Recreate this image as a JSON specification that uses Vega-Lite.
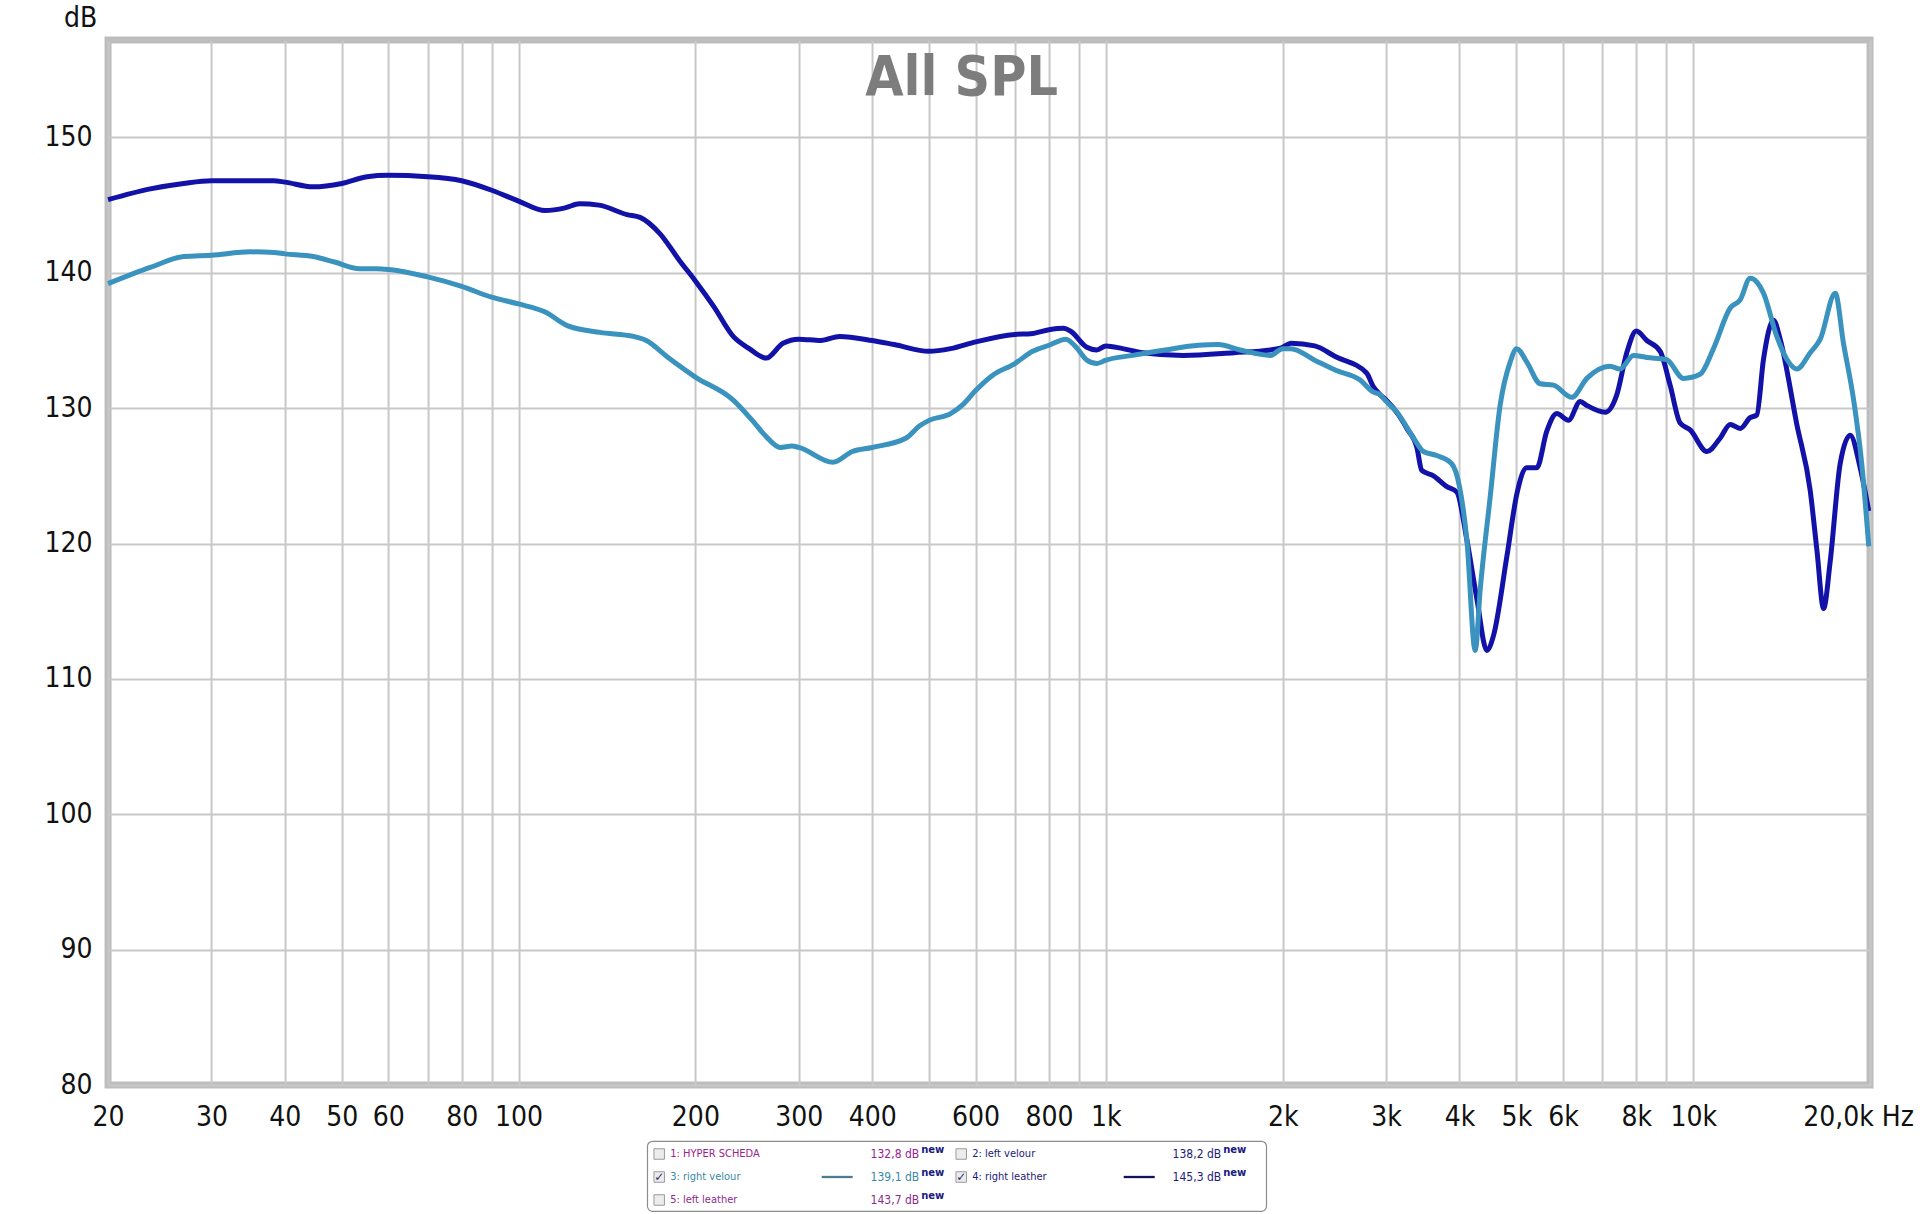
{
  "$schema": "https://vega.github.io/schema/vega-lite/v6.json",
  "background": "white",
  "padding": {"left": 40, "top": 0, "right": 0, "bottom": 0},
  "config": {
    "font": "DejaVu Sans Condensed"
  },
  "spacing": 5,
  "center": true,
  "vconcat": [
    {
      "width": 1762,
      "height": 1045,
      "view": {"stroke": "#bdbdbd", "strokeWidth": 7},
      "data": {
        "values": [
          {"series": "4: right leather", "freq": 20, "spl": 145.4},
          {"series": "4: right leather", "freq": 23.6, "spl": 146.2},
          {"series": "4: right leather", "freq": 26.9, "spl": 146.6},
          {"series": "4: right leather", "freq": 30, "spl": 146.8},
          {"series": "4: right leather", "freq": 34.9, "spl": 146.8},
          {"series": "4: right leather", "freq": 38.3, "spl": 146.8},
          {"series": "4: right leather", "freq": 40, "spl": 146.7},
          {"series": "4: right leather", "freq": 44.7, "spl": 146.35},
          {"series": "4: right leather", "freq": 50, "spl": 146.6},
          {"series": "4: right leather", "freq": 55.2, "spl": 147.1},
          {"series": "4: right leather", "freq": 60, "spl": 147.2},
          {"series": "4: right leather", "freq": 70, "spl": 147.1},
          {"series": "4: right leather", "freq": 80, "spl": 146.8},
          {"series": "4: right leather", "freq": 90, "spl": 146.1},
          {"series": "4: right leather", "freq": 100, "spl": 145.3},
          {"series": "4: right leather", "freq": 111, "spl": 144.6},
          {"series": "4: right leather", "freq": 120, "spl": 144.8},
          {"series": "4: right leather", "freq": 127, "spl": 145.1},
          {"series": "4: right leather", "freq": 137, "spl": 145.0},
          {"series": "4: right leather", "freq": 153, "spl": 144.3},
          {"series": "4: right leather", "freq": 161, "spl": 144.1},
          {"series": "4: right leather", "freq": 174, "spl": 142.9},
          {"series": "4: right leather", "freq": 188, "spl": 140.9},
          {"series": "4: right leather", "freq": 200, "spl": 139.4},
          {"series": "4: right leather", "freq": 215, "spl": 137.5},
          {"series": "4: right leather", "freq": 232, "spl": 135.3},
          {"series": "4: right leather", "freq": 247, "spl": 134.4},
          {"series": "4: right leather", "freq": 264, "spl": 133.7},
          {"series": "4: right leather", "freq": 282, "spl": 134.8},
          {"series": "4: right leather", "freq": 300, "spl": 135.1},
          {"series": "4: right leather", "freq": 327, "spl": 135.0},
          {"series": "4: right leather", "freq": 352, "spl": 135.3},
          {"series": "4: right leather", "freq": 400, "spl": 135.0},
          {"series": "4: right leather", "freq": 436, "spl": 134.7},
          {"series": "4: right leather", "freq": 500, "spl": 134.2},
          {"series": "4: right leather", "freq": 544, "spl": 134.4},
          {"series": "4: right leather", "freq": 600, "spl": 134.9},
          {"series": "4: right leather", "freq": 700, "spl": 135.45},
          {"series": "4: right leather", "freq": 745, "spl": 135.5},
          {"series": "4: right leather", "freq": 800, "spl": 135.8},
          {"series": "4: right leather", "freq": 848, "spl": 135.9},
          {"series": "4: right leather", "freq": 870, "spl": 135.7},
          {"series": "4: right leather", "freq": 928, "spl": 134.5},
          {"series": "4: right leather", "freq": 965, "spl": 134.3},
          {"series": "4: right leather", "freq": 1000, "spl": 134.6},
          {"series": "4: right leather", "freq": 1068, "spl": 134.4},
          {"series": "4: right leather", "freq": 1156, "spl": 134.1},
          {"series": "4: right leather", "freq": 1354, "spl": 133.9},
          {"series": "4: right leather", "freq": 1652, "spl": 134.1},
          {"series": "4: right leather", "freq": 1906, "spl": 134.3},
          {"series": "4: right leather", "freq": 2000, "spl": 134.5},
          {"series": "4: right leather", "freq": 2065, "spl": 134.8},
          {"series": "4: right leather", "freq": 2267, "spl": 134.6},
          {"series": "4: right leather", "freq": 2462, "spl": 133.8},
          {"series": "4: right leather", "freq": 2779, "spl": 132.6},
          {"series": "4: right leather", "freq": 2852, "spl": 131.6},
          {"series": "4: right leather", "freq": 2930, "spl": 131.0},
          {"series": "4: right leather", "freq": 3000, "spl": 130.6},
          {"series": "4: right leather", "freq": 3150, "spl": 129.5},
          {"series": "4: right leather", "freq": 3254, "spl": 128.5},
          {"series": "4: right leather", "freq": 3384, "spl": 127.1},
          {"series": "4: right leather", "freq": 3450, "spl": 125.4},
          {"series": "4: right leather", "freq": 3612, "spl": 125.0},
          {"series": "4: right leather", "freq": 3806, "spl": 124.2},
          {"series": "4: right leather", "freq": 3958, "spl": 123.8},
          {"series": "4: right leather", "freq": 4116, "spl": 120.3},
          {"series": "4: right leather", "freq": 4282, "spl": 115.9},
          {"series": "4: right leather", "freq": 4452, "spl": 112.1},
          {"series": "4: right leather", "freq": 4570, "spl": 113.2},
          {"series": "4: right leather", "freq": 4816, "spl": 119.05},
          {"series": "4: right leather", "freq": 5010, "spl": 123.7},
          {"series": "4: right leather", "freq": 5208, "spl": 125.6},
          {"series": "4: right leather", "freq": 5416, "spl": 125.6},
          {"series": "4: right leather", "freq": 5632, "spl": 128.3},
          {"series": "4: right leather", "freq": 5858, "spl": 129.6},
          {"series": "4: right leather", "freq": 6131, "spl": 129.1},
          {"series": "4: right leather", "freq": 6420, "spl": 130.5},
          {"series": "4: right leather", "freq": 6589, "spl": 130.2},
          {"series": "4: right leather", "freq": 7080, "spl": 129.7},
          {"series": "4: right leather", "freq": 7412, "spl": 131.0},
          {"series": "4: right leather", "freq": 7706, "spl": 134.1},
          {"series": "4: right leather", "freq": 8000, "spl": 135.7},
          {"series": "4: right leather", "freq": 8335, "spl": 135.0},
          {"series": "4: right leather", "freq": 8784, "spl": 134.2},
          {"series": "4: right leather", "freq": 9133, "spl": 131.7},
          {"series": "4: right leather", "freq": 9500, "spl": 128.9},
          {"series": "4: right leather", "freq": 9880, "spl": 128.4},
          {"series": "4: right leather", "freq": 10550, "spl": 126.8},
          {"series": "4: right leather", "freq": 11118, "spl": 127.8},
          {"series": "4: right leather", "freq": 11560, "spl": 128.8},
          {"series": "4: right leather", "freq": 12020, "spl": 128.5},
          {"series": "4: right leather", "freq": 12500, "spl": 129.3},
          {"series": "4: right leather", "freq": 12830, "spl": 129.5},
          {"series": "4: right leather", "freq": 13170, "spl": 133.6},
          {"series": "4: right leather", "freq": 13700, "spl": 136.5},
          {"series": "4: right leather", "freq": 14060, "spl": 135.1},
          {"series": "4: right leather", "freq": 15010, "spl": 128.8},
          {"series": "4: right leather", "freq": 15820, "spl": 123.9},
          {"series": "4: right leather", "freq": 16240, "spl": 119.5},
          {"series": "4: right leather", "freq": 16670, "spl": 115.2},
          {"series": "4: right leather", "freq": 17100, "spl": 118.6},
          {"series": "4: right leather", "freq": 17790, "spl": 125.9},
          {"series": "4: right leather", "freq": 18500, "spl": 128.0},
          {"series": "4: right leather", "freq": 19240, "spl": 125.6},
          {"series": "4: right leather", "freq": 19900, "spl": 122.4},
          {"series": "3: right velour", "freq": 20, "spl": 139.2},
          {"series": "3: right velour", "freq": 23.6, "spl": 140.4},
          {"series": "3: right velour", "freq": 26.9, "spl": 141.2},
          {"series": "3: right velour", "freq": 30, "spl": 141.3},
          {"series": "3: right velour", "freq": 34.9, "spl": 141.55},
          {"series": "3: right velour", "freq": 38.3, "spl": 141.5},
          {"series": "3: right velour", "freq": 40, "spl": 141.4},
          {"series": "3: right velour", "freq": 44.7, "spl": 141.2},
          {"series": "3: right velour", "freq": 48.6, "spl": 140.8},
          {"series": "3: right velour", "freq": 53.6, "spl": 140.3},
          {"series": "3: right velour", "freq": 57.3, "spl": 140.3},
          {"series": "3: right velour", "freq": 60, "spl": 140.25},
          {"series": "3: right velour", "freq": 70, "spl": 139.7},
          {"series": "3: right velour", "freq": 80, "spl": 139.0},
          {"series": "3: right velour", "freq": 90, "spl": 138.2},
          {"series": "3: right velour", "freq": 100, "spl": 137.7},
          {"series": "3: right velour", "freq": 111, "spl": 137.1},
          {"series": "3: right velour", "freq": 121, "spl": 136.1},
          {"series": "3: right velour", "freq": 137.6, "spl": 135.6},
          {"series": "3: right velour", "freq": 157, "spl": 135.3},
          {"series": "3: right velour", "freq": 165, "spl": 135.0},
          {"series": "3: right velour", "freq": 179, "spl": 133.8},
          {"series": "3: right velour", "freq": 200, "spl": 132.3},
          {"series": "3: right velour", "freq": 232, "spl": 130.6},
          {"series": "3: right velour", "freq": 250, "spl": 129.1},
          {"series": "3: right velour", "freq": 264, "spl": 127.9},
          {"series": "3: right velour", "freq": 279, "spl": 127.1},
          {"series": "3: right velour", "freq": 292, "spl": 127.2},
          {"series": "3: right velour", "freq": 300, "spl": 127.1},
          {"series": "3: right velour", "freq": 343, "spl": 126.0},
          {"series": "3: right velour", "freq": 370, "spl": 126.8},
          {"series": "3: right velour", "freq": 400, "spl": 127.1},
          {"series": "3: right velour", "freq": 457, "spl": 127.8},
          {"series": "3: right velour", "freq": 482, "spl": 128.7},
          {"series": "3: right velour", "freq": 500, "spl": 129.1},
          {"series": "3: right velour", "freq": 544, "spl": 129.6},
          {"series": "3: right velour", "freq": 572, "spl": 130.3},
          {"series": "3: right velour", "freq": 600, "spl": 131.3},
          {"series": "3: right velour", "freq": 640, "spl": 132.4},
          {"series": "3: right velour", "freq": 700, "spl": 133.3},
          {"series": "3: right velour", "freq": 750, "spl": 134.2},
          {"series": "3: right velour", "freq": 800, "spl": 134.65},
          {"series": "3: right velour", "freq": 855, "spl": 135.1},
          {"series": "3: right velour", "freq": 890, "spl": 134.5},
          {"series": "3: right velour", "freq": 928, "spl": 133.55},
          {"series": "3: right velour", "freq": 965, "spl": 133.3},
          {"series": "3: right velour", "freq": 1000, "spl": 133.55},
          {"series": "3: right velour", "freq": 1110, "spl": 133.9},
          {"series": "3: right velour", "freq": 1262, "spl": 134.3},
          {"series": "3: right velour", "freq": 1437, "spl": 134.65},
          {"series": "3: right velour", "freq": 1553, "spl": 134.7},
          {"series": "3: right velour", "freq": 1693, "spl": 134.3},
          {"series": "3: right velour", "freq": 1906, "spl": 133.9},
          {"series": "3: right velour", "freq": 2000, "spl": 134.4},
          {"series": "3: right velour", "freq": 2065, "spl": 134.4},
          {"series": "3: right velour", "freq": 2267, "spl": 133.55},
          {"series": "3: right velour", "freq": 2462, "spl": 132.8},
          {"series": "3: right velour", "freq": 2706, "spl": 132.1},
          {"series": "3: right velour", "freq": 2852, "spl": 131.2},
          {"series": "3: right velour", "freq": 2930, "spl": 131.0},
          {"series": "3: right velour", "freq": 3000, "spl": 130.5},
          {"series": "3: right velour", "freq": 3130, "spl": 129.7},
          {"series": "3: right velour", "freq": 3340, "spl": 127.8},
          {"series": "3: right velour", "freq": 3472, "spl": 126.8},
          {"series": "3: right velour", "freq": 3658, "spl": 126.5},
          {"series": "3: right velour", "freq": 3880, "spl": 125.9},
          {"series": "3: right velour", "freq": 4000, "spl": 124.2},
          {"series": "3: right velour", "freq": 4116, "spl": 120.3},
          {"series": "3: right velour", "freq": 4254, "spl": 112.1},
          {"series": "3: right velour", "freq": 4338, "spl": 116.6},
          {"series": "3: right velour", "freq": 4510, "spl": 123.4},
          {"series": "3: right velour", "freq": 4690, "spl": 130.2},
          {"series": "3: right velour", "freq": 4878, "spl": 133.4},
          {"series": "3: right velour", "freq": 5006, "spl": 134.4},
          {"series": "3: right velour", "freq": 5208, "spl": 133.4},
          {"series": "3: right velour", "freq": 5488, "spl": 131.8},
          {"series": "3: right velour", "freq": 5781, "spl": 131.7},
          {"series": "3: right velour", "freq": 6212, "spl": 130.8},
          {"series": "3: right velour", "freq": 6589, "spl": 132.2},
          {"series": "3: right velour", "freq": 7216, "spl": 133.1},
          {"series": "3: right velour", "freq": 7508, "spl": 132.9},
          {"series": "3: right velour", "freq": 7912, "spl": 133.9},
          {"series": "3: right velour", "freq": 8335, "spl": 133.75},
          {"series": "3: right velour", "freq": 9000, "spl": 133.6},
          {"series": "3: right velour", "freq": 9626, "spl": 132.2},
          {"series": "3: right velour", "freq": 10272, "spl": 132.5},
          {"series": "3: right velour", "freq": 10826, "spl": 134.4},
          {"series": "3: right velour", "freq": 11560, "spl": 137.4},
          {"series": "3: right velour", "freq": 12020, "spl": 138.0},
          {"series": "3: right velour", "freq": 12500, "spl": 139.6},
          {"series": "3: right velour", "freq": 13170, "spl": 138.5},
          {"series": "3: right velour", "freq": 13876, "spl": 135.3},
          {"series": "3: right velour", "freq": 14440, "spl": 133.6},
          {"series": "3: right velour", "freq": 15010, "spl": 132.9},
          {"series": "3: right velour", "freq": 15820, "spl": 134.1},
          {"series": "3: right velour", "freq": 16454, "spl": 135.1},
          {"series": "3: right velour", "freq": 17450, "spl": 138.5},
          {"series": "3: right velour", "freq": 18020, "spl": 134.8},
          {"series": "3: right velour", "freq": 18738, "spl": 130.7},
          {"series": "3: right velour", "freq": 19360, "spl": 125.9},
          {"series": "3: right velour", "freq": 19900, "spl": 119.8}
        ]
      },
      "mark": {"type": "line", "strokeWidth": 5, "interpolate": "monotone"},
      "encoding": {
        "x": {
          "field": "freq",
          "type": "quantitative",
          "scale": {"type": "log", "domain": [20, 20000], "nice": false},
          "axis": {
            "title": "All SPL",
            "titleFont": "DejaVu Sans Condensed",
            "titleFontSize": 55,
            "titleFontWeight": "bold",
            "titleColor": "#7d7d7d",
            "titleAlign": "center",
            "titleBaseline": "alphabetic",
            "titleX": 853,
            "titleY": -991,
            "values": [20, 30, 40, 50, 60, 70, 80, 90, 100, 200, 300, 400, 500, 600, 700, 800, 900, 1000, 2000, 3000, 4000, 5000, 6000, 7000, 8000, 9000, 10000, 20000],
            "labelExpr": "datum.value >= 20000 ? '20,0k Hz' : indexof([70, 90, 500, 700, 900, 7000, 9000], datum.value) >= 0 ? '' : datum.value >= 1000 ? (datum.value / 1000) + 'k' : datum.value + ''",
            "labelOverlap": false,
            "labelFlush": false,
            "labelFont": "DejaVu Sans Condensed",
            "labelFontSize": 28,
            "labelColor": "#111111",
            "labelPadding": 18,
            "labelOffset": {"condition": {"test": "datum.value >= 20000", "value": -12}, "value": 0},
            "grid": true,
            "gridColor": "#c8c8c8",
            "gridWidth": 2,
            "domain": false,
            "ticks": false
          }
        },
        "y": {
          "field": "spl",
          "type": "quantitative",
          "scale": {"domain": [80, 157.2], "nice": false, "zero": false},
          "axis": {
            "title": "dB",
            "titleAngle": 0,
            "titleFont": "DejaVu Sans Condensed",
            "titleFontWeight": "normal",
            "titleFontSize": 28,
            "titleColor": "#111111",
            "titleAlign": "center",
            "titleBaseline": "alphabetic",
            "titleX": -28,
            "titleY": -14,
            "values": [80, 90, 100, 110, 120, 130, 140, 150],
            "labelFont": "DejaVu Sans Condensed",
            "labelFontSize": 28,
            "labelColor": "#111111",
            "labelPadding": 16,
            "grid": true,
            "gridColor": "#c8c8c8",
            "gridWidth": 2,
            "domain": false,
            "ticks": false
          }
        },
        "color": {
          "field": "series",
          "type": "nominal",
          "scale": {"domain": ["3: right velour", "4: right leather"], "range": ["#3a92be", "#1212a8"]},
          "legend": null
        }
      }
    },
    {
      "width": 619,
      "height": 70,
      "view": {"stroke": "#8c8c8c", "strokeWidth": 1.2, "cornerRadius": 5, "fill": "white"},
      "data": {
        "values": [
          {"entry": "1: HYPER SCHEDA", "col": 1, "row": 1, "level": "132,8 dB", "checked": false},
          {"entry": "2: left velour", "col": 2, "row": 1, "level": "138,2 dB", "checked": false},
          {"entry": "3: right velour", "col": 1, "row": 2, "level": "139,1 dB", "checked": true},
          {"entry": "4: right leather", "col": 2, "row": 2, "level": "145,3 dB", "checked": true},
          {"entry": "5: left leather", "col": 1, "row": 3, "level": "143,7 dB", "checked": false}
        ]
      },
      "encoding": {
        "x": {"field": "col", "type": "ordinal", "scale": {"type": "point", "range": [12, 314], "padding": 0}, "axis": null},
        "y": {
          "field": "row",
          "type": "ordinal",
          "scale": {"type": "point", "range": [13, 59], "padding": 0},
          "axis": {"orient": "right", "labels": false, "ticks": false, "domain": false, "grid": false, "title": " ", "titlePadding": 100}
        }
      },
      "layer": [
        {
          "mark": {"type": "point", "shape": "square", "size": 110, "filled": true, "fill": "#ececec", "stroke": "#9a9a9a", "strokeWidth": 1, "opacity": 1}
        },
        {
          "transform": [{"filter": "datum.checked"}],
          "mark": {"type": "text", "text": "✓", "font": "DejaVu Sans", "fontSize": 12, "fontWeight": "bold", "color": "#2a2a78", "baseline": "middle"}
        },
        {
          "mark": {"type": "text", "align": "left", "baseline": "middle", "dx": 11, "font": "DejaVu Sans Condensed", "fontSize": 11},
          "encoding": {
            "text": {"field": "entry"},
            "color": {"field": "entry", "type": "nominal", "scale": {"domain": ["1: HYPER SCHEDA", "2: left velour", "3: right velour", "4: right leather", "5: left leather"], "range": ["#9b2290", "#1c1c78", "#3a88a8", "#1c1c78", "#8b2a8a"]}, "legend": null}
          }
        },
        {
          "transform": [{"filter": "datum.checked"}],
          "mark": {"type": "tick", "orient": "horizontal", "size": 31, "thickness": 2.3, "xOffset": 178, "opacity": 1},
          "encoding": {
            "color": {"field": "entry", "type": "nominal", "scale": {"domain": ["1: HYPER SCHEDA", "2: left velour", "3: right velour", "4: right leather", "5: left leather"], "range": ["#9b2290", "#1c1c78", "#4d7c90", "#12125e", "#8b2a8a"]}, "legend": null}
          }
        },
        {
          "mark": {"type": "text", "align": "right", "baseline": "middle", "dx": 260, "font": "DejaVu Sans Condensed", "fontSize": 12},
          "encoding": {
            "text": {"field": "level"},
            "color": {"field": "entry", "type": "nominal", "scale": {"domain": ["1: HYPER SCHEDA", "2: left velour", "3: right velour", "4: right leather", "5: left leather"], "range": ["#9b2290", "#1c1c78", "#3a88a8", "#1c1c78", "#8b2a8a"]}, "legend": null}
          }
        },
        {
          "mark": {"type": "text", "text": "new", "align": "left", "baseline": "middle", "dx": 262, "dy": -4, "font": "DejaVu Sans", "fontSize": 10, "fontWeight": "bold", "color": "#1a1a80"}
        }
      ],
      "resolve": {"scale": {"color": "independent"}}
    }
  ]
}
